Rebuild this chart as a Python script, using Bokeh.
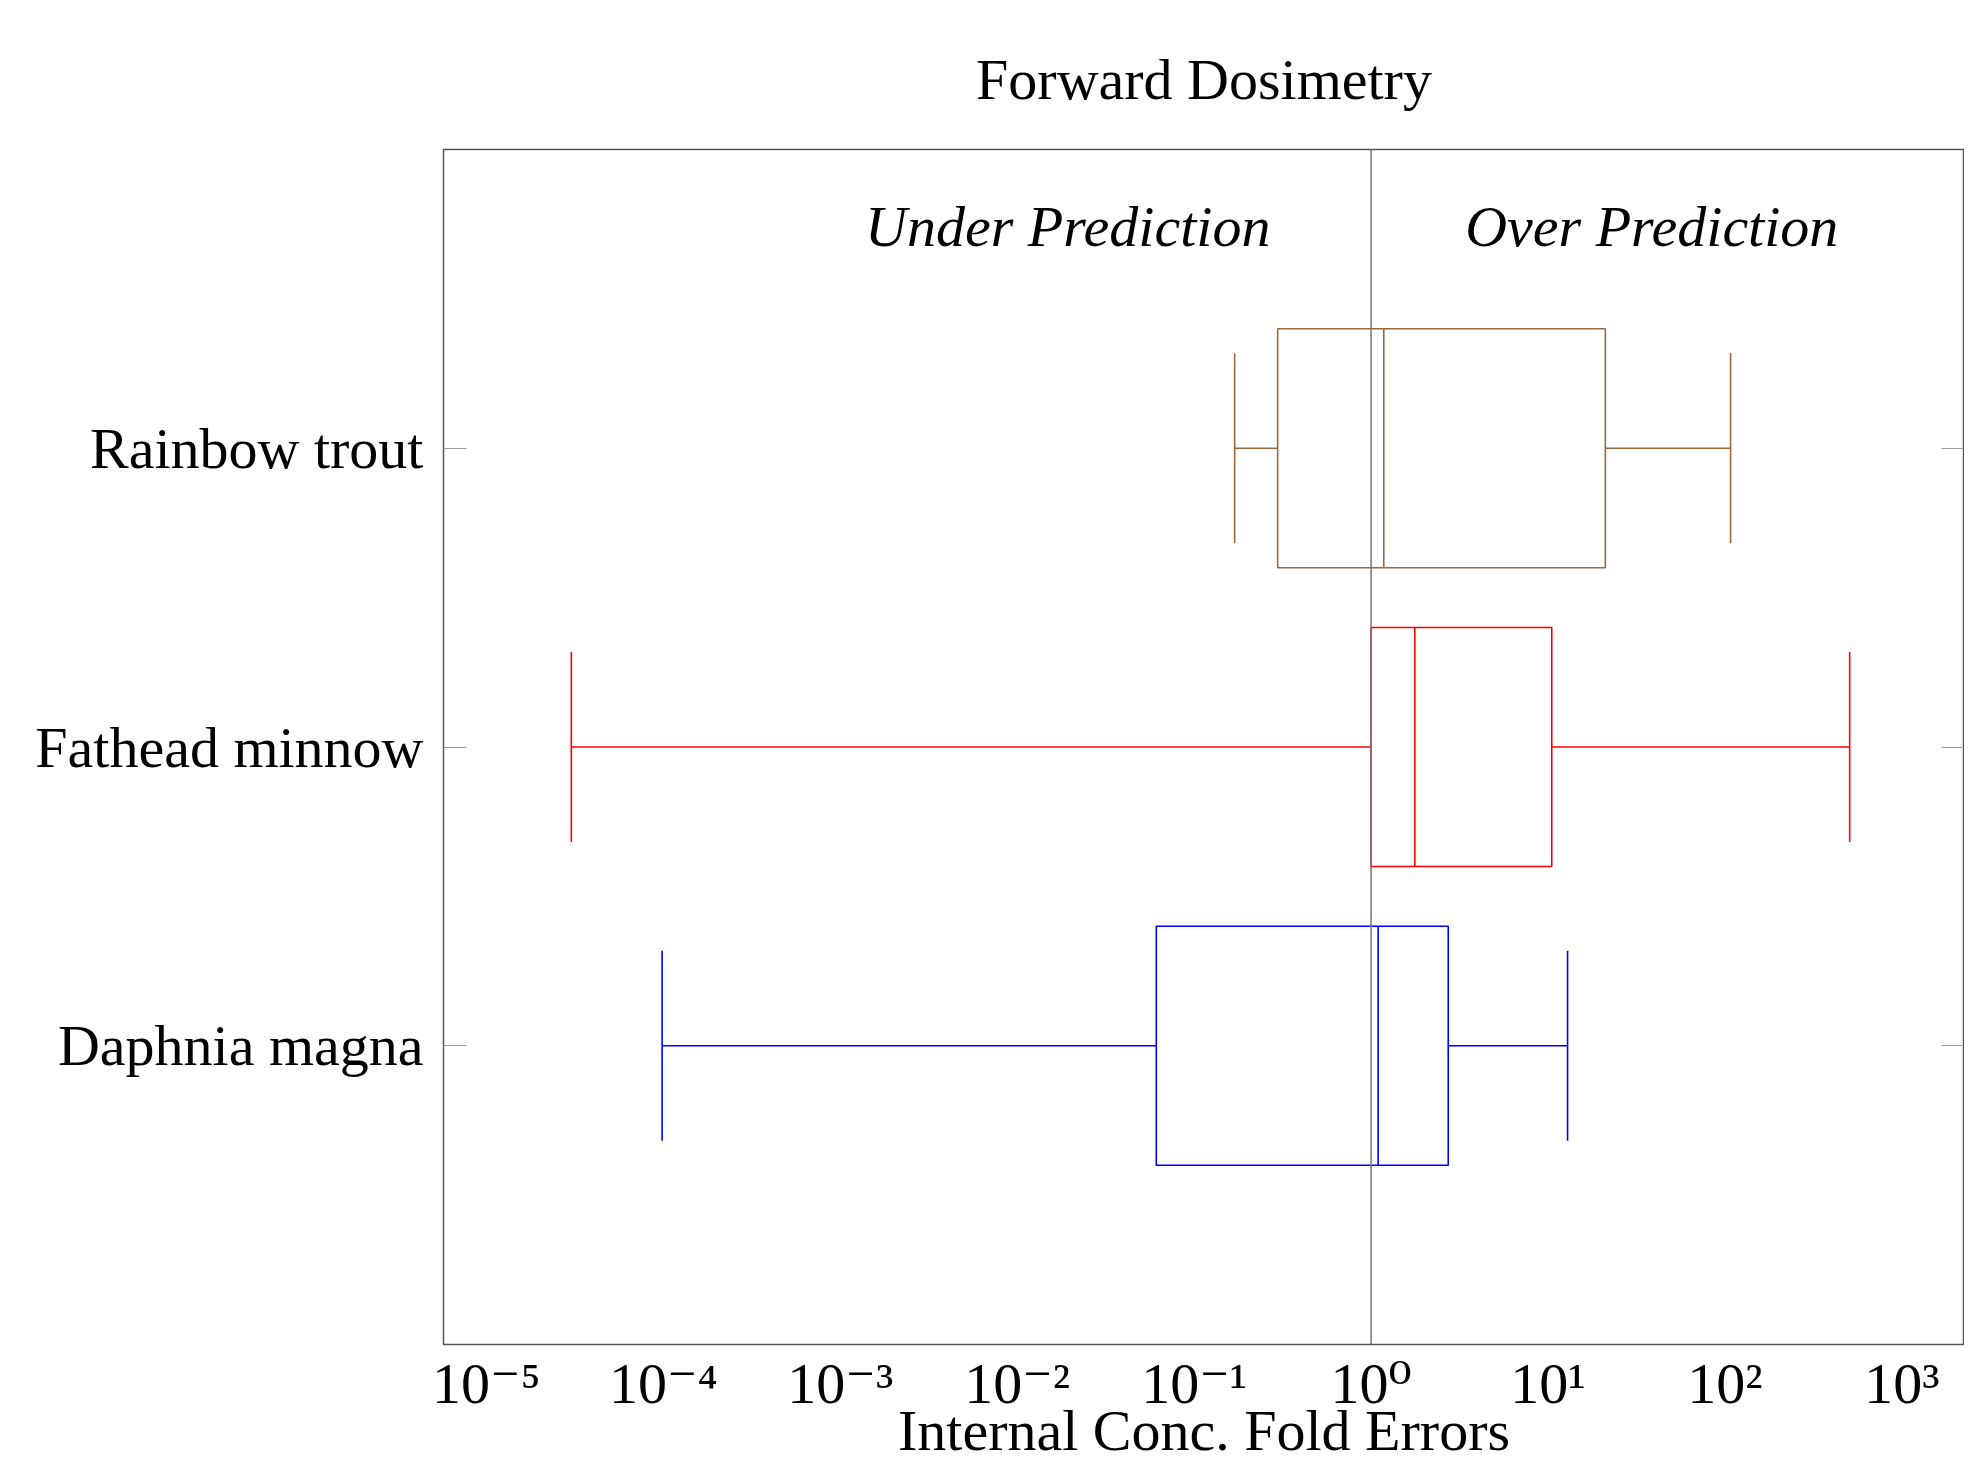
from bokeh.plotting import figure
from bokeh.models import (Range1d, FixedTicker, CustomJSTickFormatter, LinearAxis,
                          Span, Label, ColumnDataSource)
from bokeh.embed import file_html
from bokeh.resources import INLINE

# ---- data (fold errors) ----
species = ["Daphnia magna", "Fathead minnow", "Rainbow trout"]
whisker_low = [9.84e-5, 3.02e-5, 0.1694]
q1 = [0.0611, 1.0, 0.2965]
median = [1.096, 1.766, 1.180]
q3 = [2.73, 10.50, 21.09]
whisker_high = [12.9, 507.0, 107.6]
colors = ["#0000FF", "#FF0000", "#99683D"]

tick_values = [1e-5, 1e-4, 1e-3, 1e-2, 1e-1, 1e0, 1e1, 1e2, 1e3]
tick_labels = ["10⁻⁵", "10⁻⁴", "10⁻³", "10⁻²", "10⁻¹", "10⁰", "10¹", "10²", "10³"]

FONT = "Liberation Serif"
TICK_FONT = "Liberation Serif, DejaVu Serif, serif"
FS = "58px"
INK = "#000000"
BOX_HALF = 0.4
CAP_HALF = 0.318

ypos = [i + 1 for i in range(len(species))]
src = ColumnDataSource(dict(
    y=ypos, wlo=whisker_low, q1=q1, med=median, q3=q3, whi=whisker_high, color=colors,
    ylo=[v - BOX_HALF for v in ypos], yhi=[v + BOX_HALF for v in ypos],
    clo=[v - CAP_HALF for v in ypos], chi=[v + CAP_HALF for v in ypos],
))

p = figure(width=1964, height=1465, x_axis_type="log",
           x_range=Range1d(10 ** -5.2425, 10 ** 3.354), y_range=Range1d(0, 4),
           output_backend="svg", toolbar_location=None,
           min_border_left=443, min_border_top=149, min_border_right=0, min_border_bottom=100)

p.title.text = "Forward Dosimetry"
p.title.text_font = FONT
p.title.text_font_size = FS
p.title.text_font_style = "normal"
p.title.text_color = INK
p.title.align = "center"
p.title.standoff = 75

p.grid.visible = False
p.outline_line_color = "#555555"
p.outline_line_width = 1.5
p.background_fill_color = "white"
p.border_fill_color = "white"

# x axis
xa = p.xaxis[0]
xa.ticker = FixedTicker(ticks=tick_values)
xa.formatter = CustomJSTickFormatter(args=dict(tvals=tick_values, tlabels=tick_labels), code="""
    for (let i = 0; i < tvals.length; i++) {
        if (Math.abs(Math.log10(tick) - Math.log10(tvals[i])) < 1e-6) { return tlabels[i]; }
    }
    return "";
""")
xa.major_tick_in = 0
xa.major_tick_out = 0
xa.minor_tick_line_color = None
xa.axis_line_color = None
xa.major_label_text_font = TICK_FONT
xa.major_label_text_font_size = FS
xa.major_label_text_color = INK
xa.major_label_standoff = 6
xa.axis_label = "Internal Conc. Fold Errors"
xa.axis_label_text_font = FONT
xa.axis_label_text_font_size = FS
xa.axis_label_text_font_style = "normal"
xa.axis_label_text_color = INK
xa.axis_label_standoff = -21

# y axis
ya = p.yaxis[0]
ya.ticker = FixedTicker(ticks=ypos)
ya.major_label_overrides = {v: s for v, s in zip(ypos, species)}
ya.major_tick_in = 23
ya.major_tick_out = 0
ya.major_tick_line_color = "#999999"
ya.minor_tick_line_color = None
ya.axis_line_color = None
ya.major_label_text_font = FONT
ya.major_label_text_font_size = FS
ya.major_label_text_color = INK
ya.major_label_standoff = 20

# mirrored ticks on the right side, no labels
ra = LinearAxis(ticker=FixedTicker(ticks=ypos),
                formatter=CustomJSTickFormatter(code='return "";'),
                major_label_standoff=0, axis_line_color=None, major_tick_in=23,
                major_tick_out=0, major_tick_line_color="#999999", minor_tick_line_color=None)
p.add_layout(ra, "right")

# reference line at fold error 1
p.add_layout(Span(location=1.0, dimension="height", line_color="#777777", line_width=1.5))

# boxes
LW = 1.6
p.hbar(y="y", left="q1", right="q3", height=2 * BOX_HALF, fill_color=None,
       line_color="color", line_width=LW, source=src)
p.segment(x0="med", y0="ylo", x1="med", y1="yhi", line_color="color", line_width=LW, source=src)
p.segment(x0="wlo", y0="y", x1="q1", y1="y", line_color="color", line_width=LW, source=src)
p.segment(x0="q3", y0="y", x1="whi", y1="y", line_color="color", line_width=LW, source=src)
p.segment(x0="wlo", y0="clo", x1="wlo", y1="chi", line_color="color", line_width=LW, source=src)
p.segment(x0="whi", y0="clo", x1="whi", y1="chi", line_color="color", line_width=LW, source=src)

# region labels
for xv, txt in [(0.0193, "Under Prediction"), (38.6, "Over Prediction")]:
    p.add_layout(Label(x=xv, y=3.742, text=txt, text_font=FONT, text_font_size=FS,
                       text_font_style="italic", text_color=INK,
                       text_align="center", text_baseline="middle"))

open("out.html", "w").write(file_html(p, INLINE))
